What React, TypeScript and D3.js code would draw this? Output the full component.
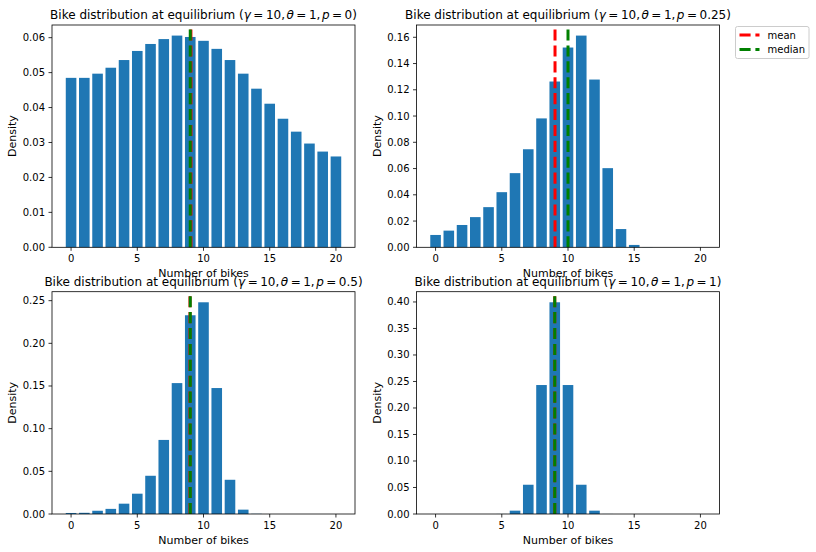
import { scaleLinear, max } from "d3";

const bikes = [0, 1, 2, 3, 4, 5, 6, 7, 8, 9, 10, 11, 12, 13, 14, 15, 16, 17, 18, 19, 20];

const densityP0 = [
  0.0485, 0.0485, 0.0497, 0.0514, 0.0536, 0.0562, 0.0582, 0.0596, 0.0606, 0.0602, 0.0591,
  0.0568, 0.0536, 0.0497, 0.0454, 0.0411, 0.0368, 0.0331, 0.0297, 0.0274, 0.026,
];
const densityP025 = [
  0.0094, 0.0127, 0.017, 0.023, 0.0306, 0.042, 0.0565, 0.0747, 0.0982, 0.1263, 0.1522,
  0.1613, 0.1278, 0.0603, 0.0139, 0.0018, 0.0001, 0, 0, 0, 0,
];
const densityP05 = [
  0.0012, 0.0014, 0.0038, 0.006, 0.0121, 0.0238, 0.0448, 0.0868, 0.1534, 0.2329, 0.2481,
  0.1476, 0.0401, 0.0051, 0.0002, 0, 0, 0, 0, 0, 0,
];
const densityP1 = [
  0, 0, 0, 0, 0, 0.0001, 0.0063, 0.0552, 0.2433, 0.3994, 0.2433,
  0.0552, 0.0063, 0.0001, 0, 0, 0, 0, 0, 0, 0,
];

const pValues = ["0", "0.25", "0.5", "1"];
const means = [9.05, 9.02, 8.98, 9.0];
const medians = [9, 10, 9, 9];

const xTicks = [0, 5, 10, 15, 20];
const yTicksP0 = [0, 0.01, 0.02, 0.03, 0.04, 0.05, 0.06];
const yTicksP025 = [0, 0.02, 0.04, 0.06, 0.08, 0.1, 0.12, 0.14, 0.16];
const yTicksP05 = [0, 0.05, 0.1, 0.15, 0.2, 0.25];
const yTicksP1 = [0, 0.05, 0.1, 0.15, 0.2, 0.25, 0.3, 0.35, 0.4];

const panels = [
  { values: densityP0, ticks: yTicksP0, left: 52, top: 25 },
  { values: densityP025, ticks: yTicksP025, left: 416.5, top: 25 },
  { values: densityP05, ticks: yTicksP05, left: 52, top: 291.7 },
  { values: densityP1, ticks: yTicksP1, left: 416.5, top: 291.7 },
];

const W = 303;
const H = 222.3;
const font = "DejaVu Sans";
const barColor = "#1f77b4";

// mathtext-ish title: thick space around "=", thin space after ","
function MathTitle({ p }: { p: string }) {
  const rel = 2.5;
  const thin = 1.5;
  return (
    <>
      {"Bike distribution at equilibrium ("}
      <tspan fontStyle="italic">γ</tspan>
      <tspan dx={rel}>=</tspan>
      <tspan dx={rel}>10,</tspan>
      <tspan dx={thin} fontStyle="italic">θ</tspan>
      <tspan dx={rel}>=</tspan>
      <tspan dx={rel}>1,</tspan>
      <tspan dx={thin} fontStyle="italic">p</tspan>
      <tspan dx={rel}>=</tspan>
      <tspan dx={rel}>{p})</tspan>
    </>
  );
}

function Panel({ idx }: { idx: number }) {
  const { values, ticks, left, top } = panels[idx];
  const ymax = (max(values) ?? 1) * 1.05;
  const x = scaleLinear().domain([-1.44, 21.44]).range([0, W]);
  const y = scaleLinear().domain([0, ymax]).range([H, 0]);
  const bw = x(0.8) - x(0);
  const lineTop = H * 0.02;

  return (
    <g transform={`translate(${left},${top})`} fontFamily={font}>
      {bikes.map((b, i) => (
        <rect
          key={i}
          x={x(b - 0.4)}
          y={y(values[i])}
          width={bw}
          height={H - y(values[i])}
          fill={barColor}
        />
      ))}
      <line x1={x(means[idx])} x2={x(means[idx])} y1={H} y2={lineTop} stroke="red" strokeWidth={3} strokeDasharray="11.1,4.8" />
      <line x1={x(medians[idx])} x2={x(medians[idx])} y1={H} y2={lineTop} stroke="green" strokeWidth={3} strokeDasharray="11.1,4.8" />
      <rect x={0} y={0} width={W} height={H} fill="none" stroke="black" strokeWidth={0.8} />

      {xTicks.map((t) => (
        <g key={t} transform={`translate(${x(t)},${H})`}>
          <line y2={3.5} stroke="black" strokeWidth={0.8} />
          <text y={15} textAnchor="middle" fontSize={10}>{t}</text>
        </g>
      ))}
      {ticks.map((t) => (
        <g key={t} transform={`translate(0,${y(t)})`}>
          <line x2={-3.5} stroke="black" strokeWidth={0.8} />
          <text x={-7} dy="0.35em" textAnchor="end" fontSize={10}>{t.toFixed(2)}</text>
        </g>
      ))}

      <text x={W / 2} y={H + 30} textAnchor="middle" fontSize={11}>Number of bikes</text>
      <text transform={`translate(${-36},${H / 2}) rotate(-90)`} textAnchor="middle" fontSize={11}>Density</text>
      <text x={W / 2} y={-6} textAnchor="middle" fontSize={12}>
        <MathTitle p={pValues[idx]} />
      </text>
    </g>
  );
}

export default function App() {
  return (
    <div style={{ position: "absolute", left: 0, top: 0 }}>
      <svg width={816} height={552} style={{ display: "block", background: "white" }}>
        {panels.map((_, i) => (
          <Panel key={i} idx={i} />
        ))}
        <g transform="translate(735.5,26.5)" fontFamily={font}>
          <rect width={73.5} height={32} rx={2} fill="white" fillOpacity={0.8} stroke="#cccccc" strokeWidth={1} />
          <line x1={4} x2={24} y1={8.5} y2={8.5} stroke="red" strokeWidth={3} strokeDasharray="11.1,4.8" />
          <text x={32} y={8.5} dy="0.35em" fontSize={10}>mean</text>
          <line x1={4} x2={24} y1={23} y2={23} stroke="green" strokeWidth={3} strokeDasharray="11.1,4.8" />
          <text x={32} y={23} dy="0.35em" fontSize={10}>median</text>
        </g>
      </svg>
    </div>
  );
}
